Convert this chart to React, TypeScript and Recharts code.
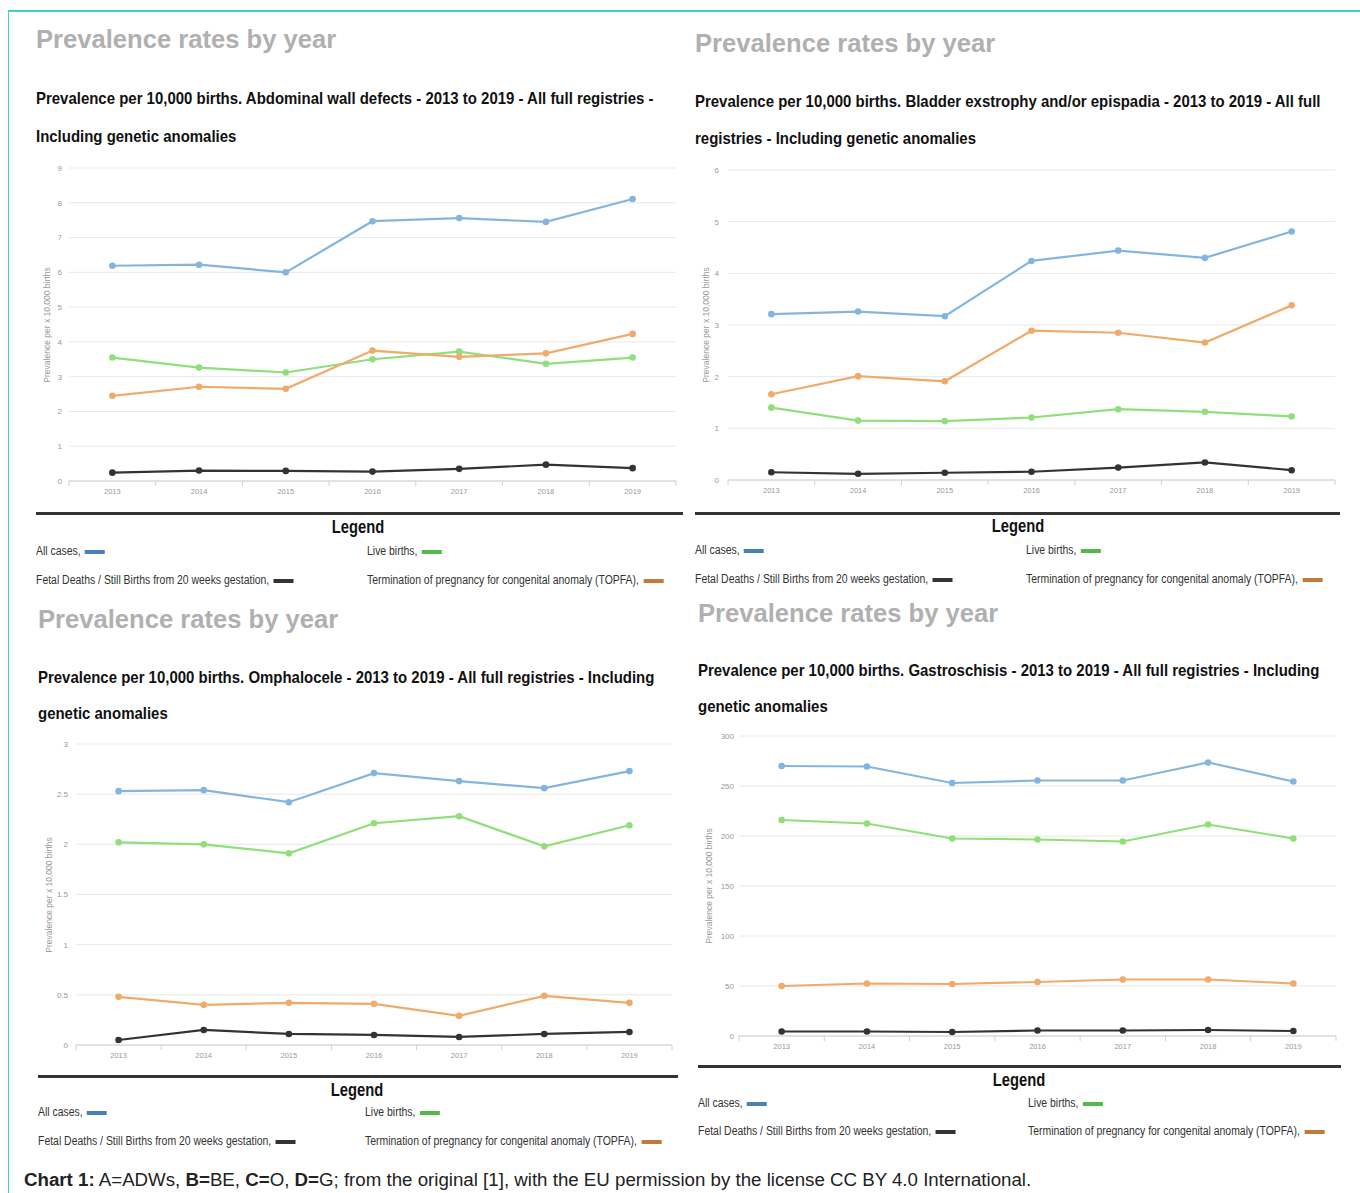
import React from "react";
import { LineChart, Line, XAxis, YAxis, CartesianGrid } from "recharts";

const years = [2013, 2014, 2015, 2016, 2017, 2018, 2019];

// A = abdominal wall defects
const adwAll = [6.19, 6.22, 6.0, 7.47, 7.56, 7.45, 8.11];
const adwLive = [3.55, 3.26, 3.12, 3.5, 3.72, 3.37, 3.55];
const adwTopfa = [2.45, 2.71, 2.65, 3.75, 3.57, 3.67, 4.23];
const adwFetal = [0.24, 0.3, 0.29, 0.27, 0.35, 0.47, 0.37];

// B = bladder exstrophy / epispadia
const beAll = [3.21, 3.26, 3.17, 4.24, 4.44, 4.3, 4.81];
const beLive = [1.4, 1.15, 1.14, 1.21, 1.37, 1.32, 1.23];
const beTopfa = [1.66, 2.01, 1.91, 2.89, 2.85, 2.66, 3.38];
const beFetal = [0.15, 0.12, 0.14, 0.16, 0.24, 0.34, 0.19];

// C = omphalocele
const oAll = [2.53, 2.54, 2.42, 2.71, 2.63, 2.56, 2.73];
const oLive = [2.02, 2.0, 1.91, 2.21, 2.28, 1.98, 2.19];
const oTopfa = [0.48, 0.4, 0.42, 0.41, 0.29, 0.49, 0.42];
const oFetal = [0.05, 0.15, 0.11, 0.1, 0.08, 0.11, 0.13];

// D = gastroschisis
const gAll = [270, 269.5, 253, 255.5, 255.5, 273.5, 254.5];
const gLive = [216, 212.5, 197.5, 196.5, 194.5, 211.5, 197.5];
const gTopfa = [50, 52.5, 52, 54, 56.5, 56.5, 52.5];
const gFetal = [4.5, 4.5, 4, 5.5, 5.5, 6, 5];

const ticksA = [0, 1, 2, 3, 4, 5, 6, 7, 8, 9];
const ticksB = [0, 1, 2, 3, 4, 5, 6];
const ticksC = [0, 0.5, 1, 1.5, 2, 2.5, 3];
const ticksD = [0, 50, 100, 150, 200, 250, 300];

const xTicks = [2012.5, 2013, 2013.5, 2014, 2014.5, 2015, 2015.5, 2016, 2016.5, 2017, 2017.5, 2018, 2018.5, 2019, 2019.5];

const LINE = { all: "#84b5df", live: "#8fdf7a", topfa: "#f0aa6c", fetal: "#333333" };
const SWATCH = { all: "#4a80b8", live: "#52b848", topfa: "#c27a3a", fetal: "#333333" };

const SANS = "'Liberation Sans', Arial, sans-serif";

const makeRows = (all: number[], live: number[], topfa: number[], fetal: number[]) =>
  years.map((year, i) => ({ year, all: all[i], live: live[i], topfa: topfa[i], fetal: fetal[i] }));

const panels = [
  {
    id: "A",
    rows: makeRows(adwAll, adwLive, adwTopfa, adwFetal),
    ticks: ticksA,
    titleX: 36, titleY: 40,
    sub: ["Prevalence per 10,000 births. Abdominal wall defects - 2013 to 2019 - All full registries -", "Including genetic anomalies"],
    subX: 36, subY: [98, 136],
    chartL: 28, plot: { l: 69, r: 676, t: 168, b: 481 },
    yTitleX: 47, tickMargin: 7,
    rule: { x1: 36, x2: 683, y: 513 }, legendCX: 358, legendY: 527,
    itemX: [36, 367], itemY: [551, 580],
  },
  {
    id: "B",
    rows: makeRows(beAll, beLive, beTopfa, beFetal),
    ticks: ticksB,
    titleX: 695, titleY: 44,
    sub: ["Prevalence per 10,000 births. Bladder exstrophy and/or epispadia - 2013 to 2019 - All full", "registries - Including genetic anomalies"],
    subX: 695, subY: [101, 138],
    chartL: 690, plot: { l: 728, r: 1335, t: 170, b: 480 },
    yTitleX: 706, tickMargin: 9,
    rule: { x1: 695, x2: 1340, y: 513 }, legendCX: 1018, legendY: 526,
    itemX: [695, 1026], itemY: [550, 579],
  },
  {
    id: "C",
    rows: makeRows(oAll, oLive, oTopfa, oFetal),
    ticks: ticksC,
    titleX: 38, titleY: 620,
    sub: ["Prevalence per 10,000 births. Omphalocele - 2013 to 2019 - All full registries - Including", "genetic anomalies"],
    subX: 38, subY: [677, 713],
    chartL: 30, plot: { l: 76, r: 672, t: 744, b: 1045 },
    yTitleX: 49, tickMargin: 8,
    rule: { x1: 38, x2: 678, y: 1076 }, legendCX: 357, legendY: 1090,
    itemX: [38, 365], itemY: [1112, 1141],
  },
  {
    id: "D",
    rows: makeRows(gAll, gLive, gTopfa, gFetal),
    ticks: ticksD,
    titleX: 698, titleY: 614,
    sub: ["Prevalence per 10,000 births. Gastroschisis - 2013 to 2019 - All full registries - Including", "genetic anomalies"],
    subX: 698, subY: [670, 706],
    chartL: 692, plot: { l: 739, r: 1336, t: 736, b: 1036 },
    yTitleX: 709, tickMargin: 5,
    rule: { x1: 698, x2: 1341, y: 1066 }, legendCX: 1019, legendY: 1080,
    itemX: [698, 1028], itemY: [1103, 1131],
  },
];

// text box anchored at its left-middle (or centre), optionally squeezed horizontally
const Txt = ({ x, y, center, squeeze = 1, style, children }: any) => (
  <div
    style={{
      position: "absolute",
      left: x,
      top: y,
      transform: (center ? "translate(-50%, -50%)" : "translateY(-50%)") + ` scaleX(${squeeze})`,
      transformOrigin: center ? "center center" : "left center",
      whiteSpace: "nowrap",
      lineHeight: 1,
      ...style,
    }}
  >
    {children}
  </div>
);

const XTick = (props: any) => {
  const { x, y, payload } = props;
  if (payload.value % 1 !== 0) {
    return <line x1={x} x2={x} y1={y} y2={y + 5} stroke="#d0d0d0" />;
  }
  return (
    <text x={x} y={y + 13} textAnchor="middle" fontSize={7.5} fill="#999" fontFamily={SANS}>
      {payload.value}
    </text>
  );
};

const LegendItem = ({ x, y, label, color }: any) => (
  <Txt x={x} y={y} squeeze={0.87} style={{ fontFamily: SANS, fontSize: 12, color: "#333" }}>
    {label}
    <span style={{ display: "inline-block", width: 23, height: 4, background: color, marginLeft: 5, verticalAlign: "middle" }} />
  </Txt>
);

function Panel({ p }: any) {
  const xh = 22;
  const rightPad = 4;
  const top = p.plot.t - 8;
  const width = p.plot.r - p.chartL + rightPad;
  const height = p.plot.b - top + xh;
  return (
    <>
      <Txt x={p.titleX} y={p.titleY} style={{ fontFamily: SANS, fontWeight: 700, fontSize: 25.6, color: "#b0b0b0" }}>
        Prevalence rates by year
      </Txt>
      {p.sub.map((s: string, i: number) => (
        <Txt key={i} x={p.subX} y={p.subY[i]} squeeze={0.88} style={{ fontFamily: SANS, fontWeight: 700, fontSize: 17, color: "#111" }}>
          {s}
        </Txt>
      ))}
      <div style={{ position: "absolute", left: p.chartL, top }}>
        <LineChart
          width={width}
          height={height}
          data={p.rows}
          margin={{ top: 8, right: rightPad, left: 0, bottom: 0 }}
        >
          <CartesianGrid vertical={false} stroke="#e8e8e8" />
          <XAxis
            dataKey="year"
            type="number"
            domain={[2012.5, 2019.5]}
            ticks={xTicks}
            interval={0}
            height={xh}
            tickSize={0}
            tickMargin={0}
            tickLine={false}
            axisLine={{ stroke: "#d0d0d0" }}
            tick={<XTick />}
          />
          <YAxis
            width={p.plot.l - p.chartL}
            domain={[p.ticks[0], p.ticks[p.ticks.length - 1]]}
            ticks={p.ticks}
            interval={0}
            axisLine={false}
            tickLine={false}
            tickSize={0}
            tickMargin={p.tickMargin}
            tick={{ fontSize: 8, fill: "#999", fontFamily: SANS }}
          />
          <Line dataKey="all" stroke={LINE.all} strokeWidth={2.2} dot={{ r: 2.2, fill: LINE.all, stroke: LINE.all }} activeDot={false} isAnimationActive={false} />
          <Line dataKey="live" stroke={LINE.live} strokeWidth={2.2} dot={{ r: 2.2, fill: LINE.live, stroke: LINE.live }} activeDot={false} isAnimationActive={false} />
          <Line dataKey="topfa" stroke={LINE.topfa} strokeWidth={2.2} dot={{ r: 2.2, fill: LINE.topfa, stroke: LINE.topfa }} activeDot={false} isAnimationActive={false} />
          <Line dataKey="fetal" stroke={LINE.fetal} strokeWidth={2.2} dot={{ r: 2.2, fill: LINE.fetal, stroke: LINE.fetal }} activeDot={false} isAnimationActive={false} />
        </LineChart>
      </div>
      <Txt
        x={p.yTitleX}
        y={(p.plot.t + p.plot.b) / 2}
        style={{ fontFamily: SANS, fontSize: 8.5, color: "#999", transform: "translate(-50%, -50%) rotate(-90deg)", transformOrigin: "center center" }}
      >
        Prevalence per x 10,000 births
      </Txt>
      <div style={{ position: "absolute", left: p.rule.x1, top: p.rule.y - 1.5, width: p.rule.x2 - p.rule.x1, height: 3, background: "#333" }} />
      <Txt x={p.legendCX} y={p.legendY} center squeeze={0.82} style={{ fontFamily: SANS, fontWeight: 700, fontSize: 18, color: "#111" }}>
        Legend
      </Txt>
      <LegendItem x={p.itemX[0]} y={p.itemY[0]} label="All cases," color={SWATCH.all} />
      <LegendItem x={p.itemX[1]} y={p.itemY[0]} label="Live births," color={SWATCH.live} />
      <LegendItem x={p.itemX[0]} y={p.itemY[1]} label="Fetal Deaths / Still Births from 20 weeks gestation," color={SWATCH.fetal} />
      <LegendItem x={p.itemX[1]} y={p.itemY[1]} label="Termination of pregnancy for congenital anomaly (TOPFA)," color={SWATCH.topfa} />
    </>
  );
}

export default function App() {
  return (
    <div style={{ position: "absolute", left: 0, top: 0, width: 1360, height: 1193, background: "#fff", overflow: "hidden" }}>
      <div style={{ position: "absolute", left: 8, top: 10, width: 1352, height: 2, background: "#3fd2c0" }} />
      <div style={{ position: "absolute", left: 8, top: 10, width: 1, height: 1183, background: "#3fd2c0" }} />
      {panels.map((p) => (
        <Panel key={p.id} p={p} />
      ))}
      <Txt x={24} y={1180} style={{ fontFamily: SANS, fontSize: 18.7, color: "#222" }}>
        <b>Chart 1:</b> A=ADWs, <b>B=</b>BE, <b>C=</b>O, <b>D=</b>G; from the original [1], with the EU permission by the license CC BY 4.0 International.
      </Txt>
    </div>
  );
}
